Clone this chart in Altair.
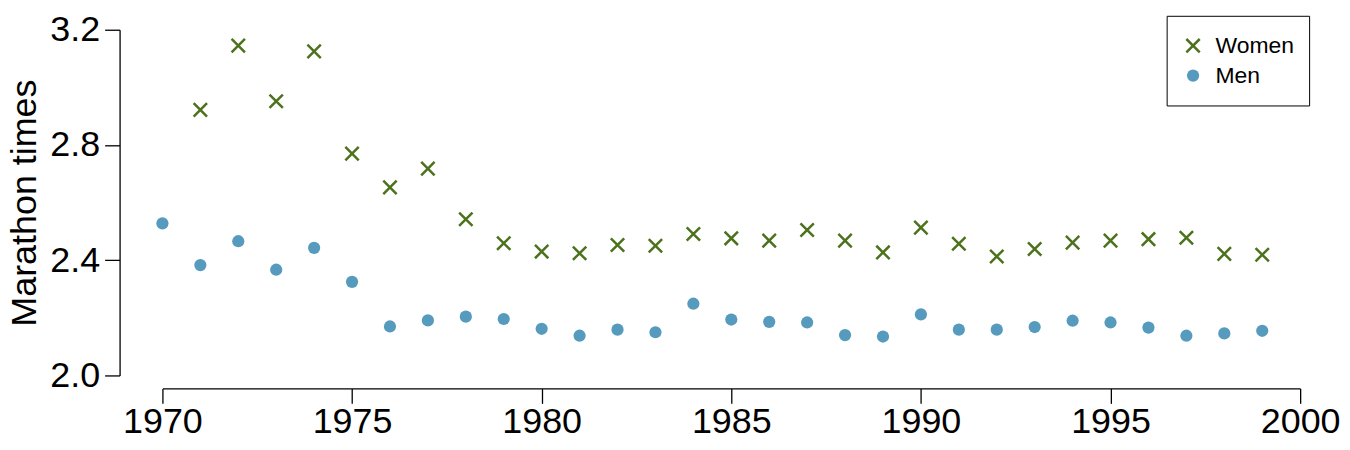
import altair as alt
import pandas as pd

years_men = list(range(1970, 2000))
men_times = [2.528, 2.383, 2.466, 2.367, 2.443, 2.325, 2.170, 2.191, 2.204, 2.196,
             2.162, 2.138, 2.159, 2.150, 2.249, 2.194, 2.186, 2.184, 2.140, 2.135,
             2.212, 2.159, 2.159, 2.168, 2.190, 2.184, 2.166, 2.138, 2.146, 2.155]

years_women = list(range(1971, 2000))
women_times = [2.922, 3.145, 2.952, 3.125, 2.770, 2.653, 2.718, 2.542, 2.459,
               2.430, 2.424, 2.453, 2.450, 2.491, 2.476, 2.468, 2.505, 2.468, 2.427,
               2.513, 2.457, 2.413, 2.439, 2.461, 2.468, 2.473, 2.478, 2.422, 2.419]

groups = ["Women", "Men"]
colors = ["#4C721D", "#569BBD"]
y_ticks = [2.0, 2.4, 2.8, 3.2]
x_ticks = [1970, 1975, 1980, 1985, 1990, 1995, 2000]

df = pd.concat([
    pd.DataFrame({"year": years_women, "time": women_times, "sex": "Women"}),
    pd.DataFrame({"year": years_men, "time": men_times, "sex": "Men"}),
])

XPATH = "M-1,-1L1,1M1,-1L-1,1"
FONT = "Liberation Sans"

chart = alt.Chart(df).mark_point(filled=True, opacity=1).encode(
    x=alt.X("year:Q",
            scale=alt.Scale(domain=[1970, 2000], nice=False, zero=False),
            axis=alt.Axis(values=x_ticks, format="d", title=None, grid=False,
                          offset=13, tickSize=15, labelPadding=1,
                          labelFontSize=36, labelFont=FONT, labelColor="black",
                          domainColor="black", tickColor="black",
                          domainWidth=1.3, tickWidth=1.3, labelFlush=False)),
    y=alt.Y("time:Q",
            scale=alt.Scale(domain=[2.0, 3.2], nice=False, zero=False),
            axis=alt.Axis(values=y_ticks, format=".1f", title="Marathon times",
                          grid=False, offset=43, tickSize=15, labelPadding=5,
                          labelFontSize=36, labelFont=FONT, labelColor="black",
                          titleFontSize=36, titleFont=FONT, titleFontWeight="normal",
                          titleColor="black", titlePadding=6,
                          domainColor="black", tickColor="black",
                          domainWidth=1.3, tickWidth=1.3, labelFlush=False)),
    shape=alt.Shape("sex:N", scale=alt.Scale(domain=groups, range=[XPATH, "circle"]),
                    legend=alt.Legend(title=None, orient="none", legendX=1008, legendY=-14,
                                      strokeColor="black", padding=15, cornerRadius=0,
                                      labelFontSize=23, labelFont=FONT, labelColor="black",
                                      rowPadding=0, clipHeight=30, labelOffset=11,
                                      symbolOffset=0)),
    fill=alt.Fill("sex:N", scale=alt.Scale(domain=groups, range=colors)),
    stroke=alt.Stroke("sex:N", scale=alt.Scale(domain=groups, range=colors)),
    strokeWidth=alt.StrokeWidth("sex:N", scale=alt.Scale(domain=groups, range=[2.5, 0])),
    size=alt.Size("sex:N", scale=alt.Scale(domain=groups, range=[180, 150])),
).properties(
    width=1142, height=347,
    autosize=alt.AutoSizeParams(type="none"),
    padding={"left": 155, "top": 21, "right": 42, "bottom": 72},
).configure_view(stroke=None)

chart.save("out.html", embed_options={"renderer": "svg", "actions": False})
